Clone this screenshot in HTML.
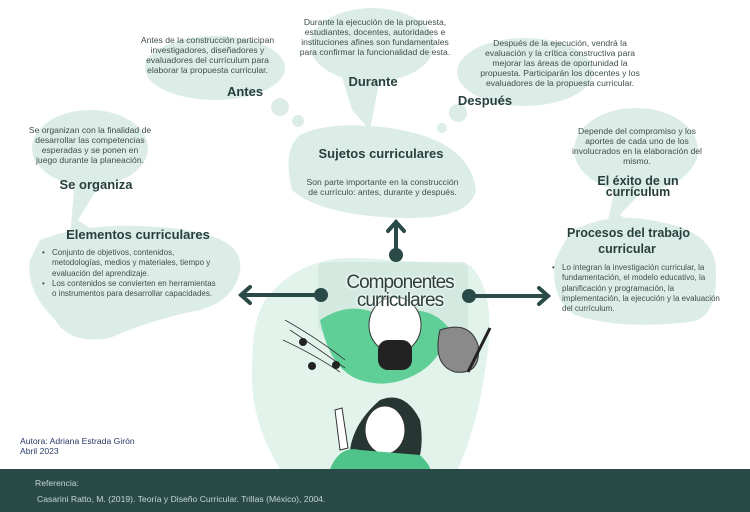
<!DOCTYPE html>
<html><head><meta charset="utf-8"><style>
html,body{margin:0;padding:0}
body{width:750px;height:512px;position:relative;overflow:hidden;background:#fff;font-family:"Liberation Sans",sans-serif;color:#3c4b4a}
.t{position:absolute;font-size:8.6px;line-height:10px;text-align:center;color:#3f4f4d;white-space:nowrap}
.h{position:absolute;font-weight:bold;color:#27403d;text-align:center;white-space:nowrap}
.b{position:absolute;font-size:8px;line-height:10.3px;color:#3f4f4d;white-space:nowrap}
.b div{position:relative;padding-left:12px}
.b div:before{content:"•";position:absolute;left:2px}
</style></head><body>
<svg width="750" height="512" style="position:absolute;left:0;top:0">
<g fill="#dcede7">
<ellipse cx="215" cy="68" rx="70" ry="32"/>
<circle cx="280" cy="107" r="9"/><circle cx="298" cy="121" r="6"/>
<ellipse cx="372" cy="45" rx="62" ry="37"/>
<polygon points="340,70 380,78 370,130 352,110"/>
<ellipse cx="525" cy="72" rx="68" ry="34"/>
<circle cx="458" cy="113" r="9"/><circle cx="442" cy="128" r="5"/>
<path d="M300,135 Q330,120 390,128 Q470,140 476,190 Q470,220 400,218 Q320,215 292,190 Q282,150 300,135Z"/>
<ellipse cx="90" cy="148" rx="58" ry="38"/>
<polygon points="75,180 100,184 78,220 95,232 70,235"/>
<path d="M40,240 Q90,220 170,228 Q245,235 240,270 Q235,300 200,310 Q150,320 110,338 Q70,345 55,320 Q25,290 30,260Z"/>
<ellipse cx="636" cy="150" rx="62" ry="42"/>
<polygon points="615,188 645,188 620,215 640,228 608,220"/>
<path d="M570,232 Q610,210 660,222 Q715,232 716,270 Q718,318 690,322 Q620,330 575,315 Q550,300 555,260Z"/>
</g>
<path d="M265,300 Q300,255 360,258 Q420,262 470,265 Q495,290 488,350 Q480,420 458,469 L280,469 Q250,420 252,370 Q252,320 265,300Z" fill="#e1f3ea"/>
<rect x="318" y="262" width="150" height="70" rx="6" fill="#cfe5dd" opacity=".7"/>
<path d="M320,320 Q350,300 380,315 Q430,300 450,330 Q440,360 420,372 Q390,390 360,380 Q330,370 320,320Z" fill="#5fcf97"/>
<ellipse cx="395" cy="325" rx="26" ry="28" fill="#fff" stroke="#333" stroke-width="1"/>
<rect x="378" y="340" width="34" height="30" rx="10" fill="#222"/>
<path d="M440,330 Q470,320 478,345 Q482,375 455,372 Q432,365 440,330Z" fill="#8a8a8a" stroke="#333"/>
<line x1="490" y1="328" x2="468" y2="372" stroke="#222" stroke-width="3"/>
<g stroke="#333" fill="none" stroke-width="0.8"><path d="M285,320 Q320,340 345,360"/><path d="M290,330 Q320,350 345,368"/><path d="M283,340 Q315,355 340,372"/></g>
<circle cx="303" cy="342" r="4" fill="#222"/><circle cx="312" cy="366" r="4" fill="#222"/><circle cx="336" cy="365" r="4" fill="#222"/>
<path d="M350,469 Q345,430 380,400 Q405,390 420,420 Q425,450 415,469Z" fill="#253633"/>
<ellipse cx="385" cy="430" rx="20" ry="24" fill="#fff" stroke="#333"/>
<path d="M330,469 Q340,445 360,450 L420,455 Q430,465 430,469Z" fill="#4ec48a"/>
<path d="M335,410 L340,450 L348,448 L342,408Z" fill="#fff" stroke="#333"/>
<g stroke="#2a4a47" stroke-width="4" fill="none" stroke-linecap="round">
<line x1="396" y1="255" x2="396" y2="222"/><polyline points="388,231 396,222 404,231"/>
<line x1="321" y1="295" x2="241" y2="295"/><polyline points="250,287 241,295 250,303"/>
<line x1="469" y1="296" x2="548" y2="296"/><polyline points="539,288 548,296 539,304"/>
</g>
<g fill="#2a4a47"><circle cx="396" cy="255" r="7"/><circle cx="321" cy="295" r="7"/><circle cx="469" cy="296" r="7"/></g>
<rect x="0" y="469" width="750" height="43" fill="#2a4a47"/>
</svg>

<div class="t" style="left:130px;top:35px;width:155px">Antes de la construcción participan<br>investigadores, diseñadores y<br>evaluadores del currículum para<br>elaborar la propuesta curricular.</div>
<div class="h" style="left:205px;top:84px;width:80px;font-size:13px">Antes</div>
<div class="t" style="left:295px;top:17px;width:160px">Durante la ejecución de la propuesta,<br>estudiantes, docentes, autoridades e<br>instituciones afines son fundamentales<br>para confirmar la funcionalidad de esta.</div>
<div class="h" style="left:333px;top:74px;width:80px;font-size:13px">Durante</div>
<div class="t" style="left:475px;top:38px;width:170px">Después de la ejecución, vendrá la<br>evaluación y la crítica constructiva para<br>mejorar las áreas de oportunidad la<br>propuesta. Participarán los docentes y los<br>evaluadores de la propuesta curricular.</div>
<div class="h" style="left:445px;top:93px;width:80px;font-size:13px">Después</div>
<div class="h" style="left:311px;top:146px;width:140px;font-size:13px">Sujetos curriculares</div>
<div class="t" style="left:300px;top:177px;width:165px">Son parte importante en la construcción<br>de currículo: antes, durante y después.</div>
<div class="t" style="left:22px;top:125px;width:136px">Se organizan con la finalidad de<br>desarrollar las competencias<br>esperadas y se ponen en<br>juego durante la planeación.</div>
<div class="h" style="left:46px;top:177px;width:100px;font-size:13px">Se organiza</div>
<div class="h" style="left:58px;top:227px;width:160px;font-size:13px">Elementos curriculares</div>
<div class="b" style="left:40px;top:248px"><div>Conjunto de objetivos, contenidos,<br>metodologías, medios y  materiales, tiempo y<br>evaluación del aprendizaje.</div><div>Los contenidos se convierten en herramientas<br>o instrumentos para desarrollar capacidades.</div></div>
<div class="t" style="left:570px;top:126px;width:134px">Depende del compromiso y los<br>aportes de cada uno de los<br>involucrados en la elaboración del<br>mismo.</div>
<div class="h" style="left:586px;top:176px;width:104px;font-size:12.5px;line-height:11px">El éxito de un<br>currículum</div>
<div class="h" style="left:567px;top:225px;width:120px;font-size:12.5px;line-height:16px">Procesos del trabajo<br>curricular</div>
<div class="b" style="left:550px;top:263px"><div>Lo integran la investigación curricular, la<br>fundamentación, el modelo educativo, la<br>planificación y programación, la<br>implementación, la ejecución y la evaluación<br>del currículum.</div></div>
<div class="h" style="left:320px;top:274px;width:160px;font-weight:normal;font-size:19px;line-height:18px;letter-spacing:-1px;color:#2d3f3c;text-shadow:0 0 3px #fff,0 0 3px #fff">Componentes<br>curriculares</div>
<div class="t" style="left:20px;top:436px;text-align:left;color:#2a3a66;line-height:10px">Autora: Adriana Estrada Girón<br>Abril 2023</div>
<div class="t" style="left:35px;top:478px;text-align:left;color:#c5d6d2">Referencia:</div>
<div class="t" style="left:37px;top:494px;text-align:left;color:#c5d6d2">Casarini Ratto, M. (2019). Teoría y Diseño Curricular. Trillas (México), 2004.</div>
</body></html>
